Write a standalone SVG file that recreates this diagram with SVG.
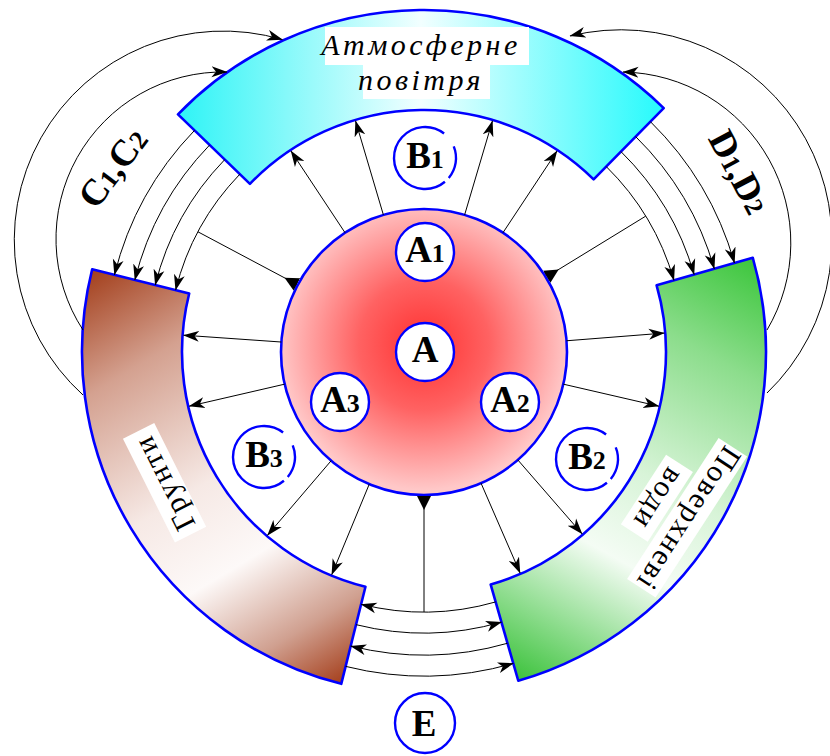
<svg xmlns="http://www.w3.org/2000/svg" width="830" height="756" viewBox="0 0 830 756">
<defs>
  <radialGradient id="gCore" cx="424" cy="345" r="145" gradientUnits="userSpaceOnUse">
    <stop offset="0" stop-color="#ff3030"/>
    <stop offset="0.45" stop-color="#ff6262"/>
    <stop offset="1" stop-color="#ffc8c8"/>
  </radialGradient>
  <linearGradient id="gAir" x1="178" y1="0" x2="664" y2="0" gradientUnits="userSpaceOnUse">
    <stop offset="0" stop-color="#2ef4f6"/>
    <stop offset="0.5" stop-color="#f2ffff"/>
    <stop offset="1" stop-color="#26fafc"/>
  </linearGradient>
  <linearGradient id="gSoil" x1="92" y1="269" x2="342" y2="684" gradientUnits="userSpaceOnUse">
    <stop offset="0" stop-color="#a33f1c"/>
    <stop offset="0.22" stop-color="#d4a190"/>
    <stop offset="0.5" stop-color="#f6e9e5"/>
    <stop offset="0.68" stop-color="#fdf9f8"/>
    <stop offset="0.86" stop-color="#d0a090"/>
    <stop offset="1" stop-color="#a53f1c"/>
  </linearGradient>
  <linearGradient id="gWater" x1="753" y1="258" x2="518" y2="681" gradientUnits="userSpaceOnUse">
    <stop offset="0" stop-color="#3cc63c"/>
    <stop offset="0.22" stop-color="#8cdd8c"/>
    <stop offset="0.5" stop-color="#d8f4d8"/>
    <stop offset="0.68" stop-color="#f4fcf4"/>
    <stop offset="0.86" stop-color="#8cdc8c"/>
    <stop offset="1" stop-color="#3cc23c"/>
  </linearGradient>
  <marker id="arr" viewBox="0 0 16 12" markerWidth="16" markerHeight="12" refX="15.5" refY="6" orient="auto" markerUnits="userSpaceOnUse">
    <path d="M0,0.5 L16,6 L0,11.5 L4.5,6 Z" fill="#000"/>
  </marker>
  <marker id="tail" viewBox="0 -8 16 16" markerWidth="16" markerHeight="16" refX="0" refY="0" orient="auto" markerUnits="userSpaceOnUse">
    <path d="M0,-7 L14,0 L0,7 Z" fill="#000"/>
  </marker>
</defs>
<style>
  .band{stroke:#0000ff;stroke-width:2.6;stroke-linejoin:round}
  .node{fill:#fff;stroke:#0000ff;stroke-width:2.4}
  .ring{fill:none;stroke:#0000ff;stroke-width:2.4}
  .c{fill:none;stroke:#000;stroke-width:1}
  .ar{marker-end:url(#arr)}
  .tl{marker-start:url(#tail)}
  .lbl{font-family:"Liberation Serif","DejaVu Serif",serif;font-weight:bold;font-size:37px;fill:#000;text-anchor:middle}
  .sub{font-size:26px}
  .bt{font-family:"Liberation Serif","DejaVu Serif",serif;font-size:30px;fill:#000;text-anchor:middle}
  .it{font-style:italic;letter-spacing:3.5px}
  .box{fill:#fff}
</style>

<rect width="830" height="756" fill="#fff"/>

<g id="air">
  <path class="band" fill="url(#gAir)" d="M663.71,108.07 A342,342 0 0 0 177.99,114.43 L249.92,183.89 A242,242 0 0 1 593.62,179.39 Z"/>
  <rect class="box" x="325" y="27" width="204" height="38"/>
  <rect class="box" x="363" y="65" width="127" height="34"/>
  <text class="bt it" x="421" y="55">Атмосферне</text>
  <text class="bt it" x="421" y="90">повітря</text>
</g>

<g id="soil">
  <path class="band" fill="url(#gSoil)" d="M92.16,269.26 A342,342 0 0 0 341.26,683.84 L365.46,586.81 A242,242 0 0 1 189.19,293.46 Z"/>
  <g transform="translate(165,482.5) rotate(-116.6)">
    <rect class="box" x="-58" y="-18" width="116" height="35"/>
    <text class="bt" x="0" y="9" letter-spacing="2">Грунти</text>
  </g>
</g>

<g id="water">
  <path class="band" fill="url(#gWater)" d="M518.27,680.75 A342,342 0 0 0 752.75,257.73 L656.62,285.30 A242,242 0 0 1 490.70,584.62 Z"/>
  <g transform="translate(672,508) rotate(123)">
    <rect class="box" x="-84" y="-35" width="168" height="34"/>
    <rect class="box" x="-41.5" y="2" width="83" height="32"/>
    <text class="bt" x="0" y="-10" letter-spacing="2">Поверхневі</text>
    <text class="bt" x="0" y="26" letter-spacing="2">води</text>
  </g>
</g>

<g id="core">
  <circle cx="424" cy="352" r="143" fill="url(#gCore)" stroke="#0000ff" stroke-width="2.6"/>
</g>

<g id="A">
  <circle class="node" cx="425" cy="352" r="29"/>
  <text class="lbl" x="425" y="362">A</text>
</g>
<g id="A1">
  <circle class="node" cx="425" cy="252" r="29"/>
  <text class="lbl" x="425" y="262">A<tspan class="sub">1</tspan></text>
</g>
<g id="A2">
  <circle class="node" cx="510" cy="402" r="29"/>
  <text class="lbl" x="510" y="412">A<tspan class="sub">2</tspan></text>
</g>
<g id="A3">
  <circle class="node" cx="340" cy="402" r="29"/>
  <text class="lbl" x="340" y="412">A<tspan class="sub">3</tspan></text>
</g>

<g id="B1">
  <path class="ring" d="M444.09,133.57 A31,31 0 1 0 444.93,181.75 M448.75,177.93 A31,31 0 0 0 453.74,146.39"/>
  <text class="lbl" x="425" y="168">B<tspan class="sub">1</tspan></text>
</g>
<g id="B2">
  <path class="ring" d="M606.09,434.57 A31,31 0 1 0 606.93,482.75 M610.75,478.93 A31,31 0 0 0 615.74,447.39"/>
  <text class="lbl" x="587" y="469">B<tspan class="sub">2</tspan></text>
</g>
<g id="B3">
  <path class="ring" d="M283.09,432.57 A31,31 0 1 0 283.93,480.75 M287.75,476.93 A31,31 0 0 0 292.74,445.39"/>
  <text class="lbl" x="264" y="467">B<tspan class="sub">3</tspan></text>
</g>
<g id="E">
  <circle class="node" cx="425" cy="723" r="30"/>
  <text class="lbl" x="424" y="736">E</text>
</g>

<g id="connectors">
  <!-- core to bands -->
  <path class="c ar" d="M502.93,232.75 L557.02,151.03"/>
  <path class="c ar" d="M464.61,214.89 L492.45,120.92"/>
  <path class="c ar" d="M383.39,214.89 L355.55,120.92"/>
  <path class="c ar" d="M345.07,232.75 L290.98,151.03"/>
  <path class="c ar" d="M281.35,342.02 L183.59,335.19"/>
  <path class="c ar" d="M284.67,384.17 L189.18,406.21"/>
  <path class="c ar" d="M331.13,460.74 L267.48,535.26"/>
  <path class="c ar" d="M369.28,484.11 L331.77,574.66"/>
  <path class="c ar" d="M566.56,340.78 L664.26,333.09"/>
  <path class="c ar" d="M563.33,384.17 L658.82,406.21"/>
  <path class="c ar" d="M517.82,459.92 L582.11,533.89"/>
  <path class="c ar" d="M481.02,483.14 L520.10,573.01"/>
  <!-- gap spokes -->
  <path class="c tl" d="M296.86,284.40 L197.96,231.82"/>
  <path class="c tl" d="M546.78,276.76 L645.69,216.15"/>
  <path class="c tl" d="M424,496 L424,612"/>
  <!-- C arcs: air to soil -->
  <path class="c ar" d="M239.85,174.17 A256,256 0 0 0 175.60,290.07"/>
  <path class="c ar" d="M224.74,159.58 A277,277 0 0 0 155.23,284.99"/>
  <path class="c ar" d="M209.64,144.99 A298,298 0 0 0 134.85,279.91"/>
  <path class="c ar" d="M194.53,130.40 A319,319 0 0 0 114.47,274.83"/>
  <!-- D arcs: air to water -->
  <path class="c ar" d="M606.24,166.55 A260,260 0 0 1 673.93,280.33"/>
  <path class="c ar" d="M620.96,151.58 A281,281 0 0 1 694.11,274.55"/>
  <path class="c ar" d="M635.67,136.60 A302,302 0 0 1 714.30,268.76"/>
  <path class="c ar" d="M650.39,121.62 A323,323 0 0 1 734.49,262.97"/>
  <!-- E arcs: soil <-> water -->
  <path class="c ar" d="M495.67,601.93 A260,260 0 0 1 361.10,604.28"/>
  <path class="c ar" d="M356.02,624.65 A281,281 0 0 0 501.45,622.11"/>
  <path class="c ar" d="M507.52,643.26 A303,303 0 0 1 350.70,646.00"/>
  <path class="c ar" d="M345.62,666.38 A324,324 0 0 0 513.31,663.45"/>
  <!-- outer loops to air -->
  <path class="c ar" d="M83,395 A209,209 0 0 1 282.4,39.6"/>
  <path class="c ar" d="M83,330 A167,167 0 0 1 227,72"/>
  <path class="c ar" d="M767,393 A211,211 0 0 0 570,36"/>
  <path class="c ar" d="M767,330 A171,171 0 0 0 623,72"/>
</g>

<g id="flow-labels">
  <text class="lbl" font-size="36" transform="translate(113,168) rotate(-53)" y="12">C<tspan class="sub">1</tspan>,C<tspan class="sub">2</tspan></text>
  <text class="lbl" font-size="36" transform="translate(739,172) rotate(62)" y="12">D<tspan class="sub">1</tspan>,D<tspan class="sub">2</tspan></text>
</g>
</svg>
